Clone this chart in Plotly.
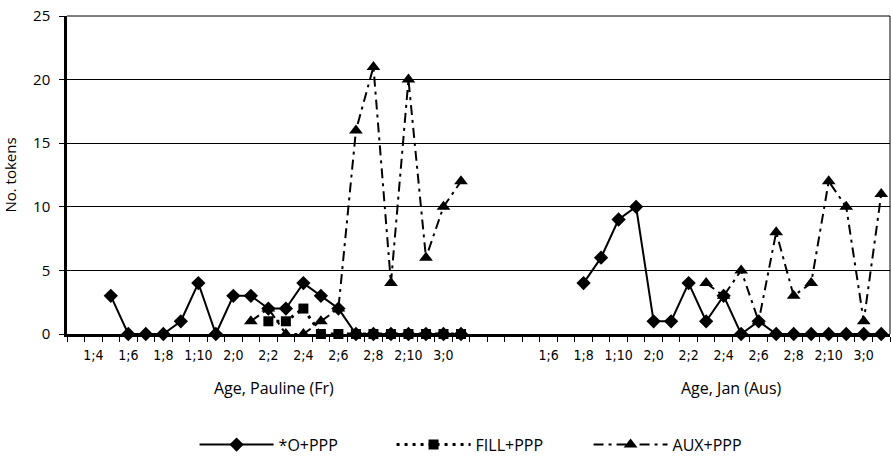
import plotly.graph_objects as go

# ---- data ----
pauline_ages = ["1;3", "1;4", "1;5", "1;6", "1;7", "1;8", "1;9", "1;10", "1;11",
                "2;0", "2;1", "2;2", "2;3", "2;4", "2;5", "2;6", "2;7", "2;8",
                "2;9", "2;10", "2;11", "3;0", "3;1"]
pauline_o = [None, None, 3, 0, 0, 0, 1, 4, 0, 3, 3, 2, 2, 4, 3, 2, 0, 0, 0, 0, 0, 0, 0]
pauline_fill = [None, None, None, None, None, None, None, None, None, None, None,
                1, 1, 2, 0, 0, 0, 0, 0, 0, 0, 0, 0]
pauline_aux = [None, None, None, None, None, None, None, None, None, None,
               1, 2, 0, 0, 1, 2, 16, 21, 4, 20, 6, 10, 12]

jan_ages = ["1;6", "1;7", "1;8", "1;9", "1;10", "1;11", "2;0", "2;1", "2;2", "2;3",
            "2;4", "2;5", "2;6", "2;7", "2;8", "2;9", "2;10", "2;11", "3;0", "3;1"]
jan_o = [None, None, 4, 6, 9, 10, 1, 1, 4, 1, 3, 0, 1, 0, 0, 0, 0, 0, 0, 0]
jan_fill = [None] * 20
jan_aux = [None, None, None, None, None, None, None, None, None, 4,
           3, 5, 1, 8, 3, 4, 12, 10, 1, 11]

labelled_months = {"1;4", "1;6", "1;8", "1;10", "2;0", "2;2", "2;4", "2;6",
                   "2;8", "2;10", "3;0"}
y_ticks = [0, 5, 10, 15, 20, 25]
n_gap = 4

series_names = ["*O+PPP", "FILL+PPP", "AUX+PPP"]

# ---- category axis keys ----
p_keys = ["Pauline " + a for a in pauline_ages]
gap_keys = [" " * (i + 1) for i in range(n_gap)]
j_keys = ["Jan " + a for a in jan_ages]
categories = p_keys + gap_keys + j_keys
tick_text = ([a if a in labelled_months else "" for a in pauline_ages]
             + [""] * n_gap
             + [a if a in labelled_months else "" for a in jan_ages])

styles = [
    dict(symbol="diamond", size=11, dash="solid", width=2),
    dict(symbol="square", size=10, dash="3px,5px", width=3),
    dict(symbol="triangle-up", size=12, dash="10px,5px,3px,5px", width=2),
]
pv = [pauline_o, pauline_fill, pauline_aux]
jv = [jan_o, jan_fill, jan_aux]

fig = go.Figure()
for name, st, p, j in zip(series_names, styles, pv, jv):
    fig.add_trace(go.Scatter(
        x=categories,
        y=p + [None] * n_gap + j,
        name=name,
        mode="lines+markers",
        connectgaps=False,
        cliponaxis=False,
        line=dict(color="black", width=st["width"], dash=st["dash"]),
        marker=dict(symbol=st["symbol"], size=st["size"], color="black",
                    line=dict(width=0)),
    ))

main_font = "Open Sans, Noto Sans, sans-serif"

fig.update_layout(
    width=891, height=465,
    margin=dict(l=67, r=1, t=16, b=131, autoexpand=False),
    paper_bgcolor="white", plot_bgcolor="white",
    font=dict(family=main_font, color="black", size=15),
    showlegend=True,
    legend=dict(orientation="h", x=0.155, y=-0.348, xanchor="left",
                yanchor="middle", font=dict(size=16), itemwidth=74,
                entrywidth=108, traceorder="normal"),
    xaxis=dict(
        type="category", categoryorder="array", categoryarray=categories,
        range=[-0.5, len(categories) - 0.5], automargin=False,
        tickmode="array", tickvals=categories, ticktext=tick_text,
        tickson="boundaries", ticks="outside", ticklen=5, tickwidth=1,
        tickcolor="black", tickangle=0, ticklabelstandoff=6,
        ticklabeloverflow="allow",
        tickfont=dict(family="Liberation Sans Narrow, DejaVu Sans Condensed, sans-serif",
                      size=14),
        showline=True, linewidth=2.5, linecolor="black",
        showgrid=False, zeroline=False,
    ),
    yaxis=dict(
        range=[0, 25], tickmode="array", tickvals=y_ticks,
        automargin=False, ticklabeloverflow="allow",
        ticks="outside", ticklen=5, tickwidth=1, tickcolor="black",
        tickfont=dict(size=15), ticklabelstandoff=6,
        showline=True, linewidth=2.5, linecolor="black",
        showgrid=True, gridcolor="black", gridwidth=1,
        zeroline=False,
        title=dict(text="No. tokens", font=dict(size=15), standoff=16),
    ),
    annotations=[
        dict(text="Age, Pauline (Fr)", xref="paper", yref="paper",
             x=0.251, y=-0.17, showarrow=False, font=dict(size=16),
             xanchor="center", yanchor="middle"),
        dict(text="Age, Jan (Aus)", xref="paper", yref="paper",
             x=0.808, y=-0.17, showarrow=False, font=dict(size=16),
             xanchor="center", yanchor="middle"),
    ],
    shapes=[
        dict(type="line", xref="paper", yref="paper", x0=1, x1=1, y0=0, y1=1,
             line=dict(color="black", width=1)),
        dict(type="line", xref="paper", yref="paper", x0=0, x1=1, y0=1, y1=1,
             line=dict(color="black", width=1)),
    ],
)

# remove the page's default 8px body margin so the figure fills the window
fig.write_html("out.html", config={"displayModeBar": False},
               post_script="document.body.style.margin='0px';")
